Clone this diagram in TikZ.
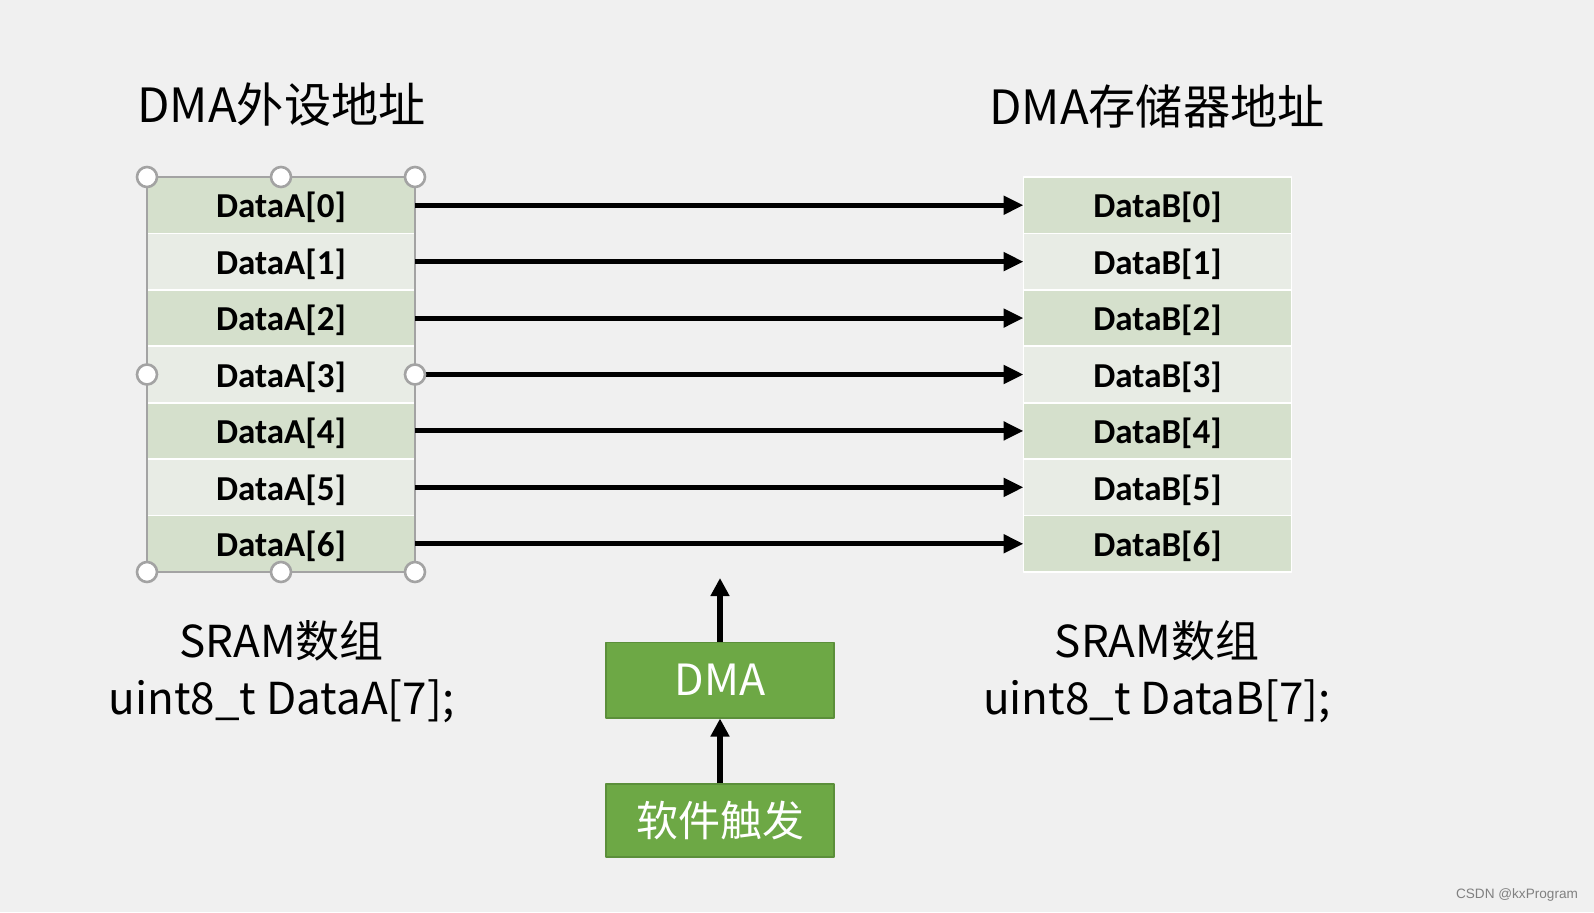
\documentclass[tikz,border=0pt]{standalone}
\usepackage{fontspec}
\usepackage{xcolor}
\newfontfamily\cjk{Noto Sans CJK SC}
\newfontfamily\cellfont{Carlito}
\newfontfamily\markfont{Liberation Sans}
\usetikzlibrary{arrows.meta,positioning}
\definecolor{pagebg}{HTML}{F0F0F0}
\definecolor{rowdark}{HTML}{D5E0CC}
\definecolor{rowlight}{HTML}{E8ECE5}
\definecolor{boxgreen}{HTML}{6DA845}
\definecolor{boxedge}{HTML}{5B8F3A}
\definecolor{handlegray}{HTML}{A3A3A3}
\tikzset{
  every picture/.append style={line join=round},
  dma cell/.style={rectangle,draw=white,line width=0.8pt,outer sep=0pt,inner sep=0pt,
    text depth=0pt,minimum width=134pt,minimum height=28.2pt,
    font=\cellfont\bfseries\fontsize{17.5}{20}\selectfont},
  dma title/.style={font=\cjk\fontsize{23.6}{28}\selectfont},
  dma caption/.style={font=\cjk\fontsize{22}{28.5}\selectfont,align=center},
  dma box/.style={rectangle,fill=boxgreen,draw=boxedge,line width=0.8pt,text=white,
    minimum width=114pt,inner sep=0pt},
  dma move/.style={line width=2.5pt,-{Triangle[length=10pt,width=9pt]}},
  dma up/.style={line width=3pt,-{Triangle[length=9pt,width=9pt]}},
  dma frame/.style={draw=handlegray,line width=0.8pt},
  dma handle/.style={circle,fill=white,draw=handlegray,line width=1.3pt,inner sep=0pt,minimum size=10pt}
}

\begin{document}
\begin{tikzpicture}[x=0.5pt,y=-0.5pt]
  \fill[pagebg] (0,0) rectangle (1594,912);
  \useasboundingbox (0,0) rectangle (1594,912);

  % the two arrays
  \foreach \i/\col in {0/rowdark,1/rowlight,2/rowdark,3/rowlight,4/rowdark,5/rowlight,6/rowdark}{
    \node[dma cell,fill=\col] (a\i) at (281,{205.2+56.43*\i}) {DataA[\i]};
    \node[dma cell,fill=\col] (b\i) at (1157.5,{205.2+56.43*\i}) {DataB[\i]};
  }
  \draw[dma frame] (a0.north west) rectangle (a6.south east);

  \node[dma title] (pertitle) at (281.5,105) {DMA外设地址};
  \node[dma title] (memtitle) at (1157,107) {DMA存储器地址};

  \node[dma caption] (acap) at (281.5,672) {SRAM数组\\uint8\_t DataA[7];};
  \node[dma caption] (bcap) at (1157,672) {SRAM数组\\uint8\_t DataB[7];};

  \foreach \i in {0,...,6}
    \draw[dma move] (a\i.east) -- (b\i.west);

  % selection handles
  \foreach \p in {a0.north west,a0.north,a0.north east,a3.west,a3.east,
                  a6.south west,a6.south,a6.south east}
    \node[dma handle] at (\p) {};

  % trigger chain
  \node[dma box,minimum height=37.7pt,font=\cjk\fontsize{21.5}{24}\selectfont] (dma) at (720,680) {DMA};
  \node[dma box,minimum height=36.5pt,font=\cjk\fontsize{21}{24}\selectfont] (trig) at (720,820.5) {软件触发};
  \coordinate (dmaout) at (720,578);
  \draw[dma up] (dma.north) -- (dmaout);
  \draw[dma up] (trig.north) -- (dma.south);

  \node[font=\markfont\fontsize{6.8}{8}\selectfont,text=black!50] (mark) at (1517,895) {CSDN @kxProgram};
\end{tikzpicture}
\end{document}
